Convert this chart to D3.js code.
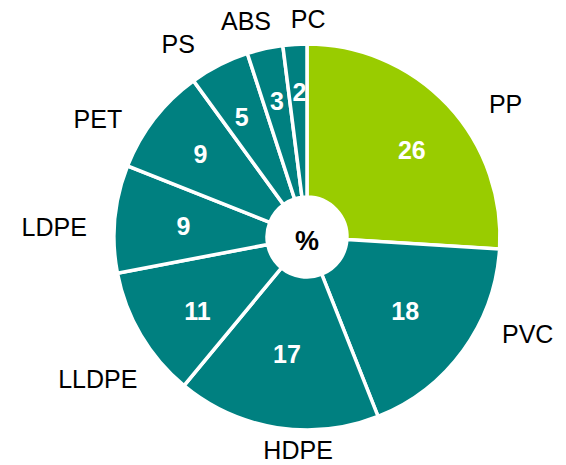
<!DOCTYPE html>
<html>
<head>
<meta charset="utf-8">
<script src="https://cdn.jsdelivr.net/npm/d3@7"></script>
<style>
  html, body { margin: 0; padding: 0; background: #fff; }
  svg { display: block; }
</style>
</head>
<body>
<svg id="chart" width="566" height="465"></svg>
<script>
// ---- data ----
const categories = ["PP", "PVC", "HDPE", "LLDPE", "LDPE", "PET", "PS", "ABS", "PC"];
const values     = [26, 18, 17, 11, 9, 9, 5, 3, 2];
const centerLabel = "%";

// ---- layout (label placement tweaks, polar: degrees offset from slice mid-angle, radius) ----
const outerLabelNudge = [9.4, -12.3, -6.6, -3.6, -3.2, -8.4, -6.7, -3.2, 3.9];
const outerLabelRadius = [239, 241, 213, 253, 253, 240, 232, 224, 218];
const innerLabelNudge = [3.6, 1, 0.7, -3.4, -0.4, 0, -1.5, 0.1, 0.6];
const innerLabelRadius = [136, 123, 119, 132, 124, 135, 137, 139, 145];

const W = 566, H = 465;
const cx = 307, cy = 237, R = 193, r0 = 40;
const colorFor = (i) => i === 0 ? "#99cc00" : "#008080";

const svg = d3.select("#chart");
const g = svg.append("g").attr("transform", `translate(${cx},${cy})`);

const pie = d3.pie().sort(null).value(d => d.value);
const arcs = pie(categories.map((c, i) => ({ cat: c, value: values[i], i })));
const arc = d3.arc().innerRadius(r0).outerRadius(R);

g.selectAll("path.slice").data(arcs).enter().append("path")
  .attr("class", "slice")
  .attr("d", arc)
  .attr("fill", d => colorFor(d.data.i))
  .attr("stroke", "#ffffff")
  .attr("stroke-width", 3.5)
  .attr("stroke-linejoin", "miter");

function polar(angleRad, rad) {
  return [Math.sin(angleRad) * rad, -Math.cos(angleRad) * rad];
}
const deg = Math.PI / 180;

// value labels
g.selectAll("text.val").data(arcs).enter().append("text")
  .attr("class", "val")
  .attr("transform", d => {
    const a = (d.startAngle + d.endAngle) / 2 + innerLabelNudge[d.data.i] * deg;
    const p = polar(a, innerLabelRadius[d.data.i]);
    return `translate(${p[0]},${p[1]})`;
  })
  .attr("text-anchor", "middle")
  .attr("dy", "0.36em")
  .attr("fill", "#ffffff")
  .style("font-family", "'Liberation Sans', Arial, sans-serif")
  .style("font-weight", "bold")
  .style("font-size", "25px")
  .text(d => d.data.value);

// category labels
g.selectAll("text.cat").data(arcs).enter().append("text")
  .attr("class", "cat")
  .attr("transform", d => {
    const a = (d.startAngle + d.endAngle) / 2 + outerLabelNudge[d.data.i] * deg;
    const p = polar(a, outerLabelRadius[d.data.i]);
    return `translate(${p[0]},${p[1]})`;
  })
  .attr("text-anchor", "middle")
  .attr("dy", "0.36em")
  .attr("fill", "#000000")
  .style("font-family", "'Liberation Sans', Arial, sans-serif")
  .style("font-size", "25px")
  .text(d => d.data.cat);

// center label
g.append("text")
  .attr("x", 0).attr("y", 3)
  .attr("text-anchor", "middle")
  .attr("dy", "0.36em")
  .attr("fill", "#000000")
  .style("font-family", "'Liberation Sans', Arial, sans-serif")
  .style("font-weight", "bold")
  .style("font-size", "27px")
  .text(centerLabel);
</script>
</body>
</html>
